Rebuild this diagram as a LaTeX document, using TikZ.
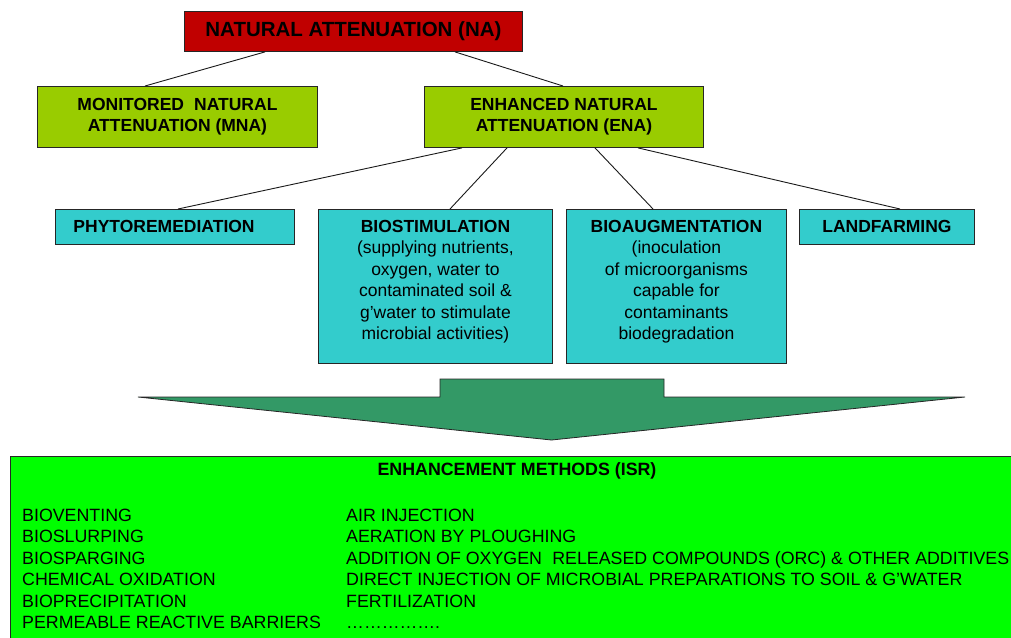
\documentclass[tikz,border=0pt]{standalone}
\usepackage{fontspec}
\setmainfont{Liberation Sans}
\definecolor{nared}{HTML}{C00000}
\definecolor{limegreen}{HTML}{99CC00}
\definecolor{tealfill}{HTML}{33CCCC}
\definecolor{arrowgreen}{HTML}{339966}
\definecolor{brightgreen}{HTML}{00FF00}
\newcommand\diagfont{\fontsize{17.5}{21.5}\selectfont}
\newcommand\listfont{\fontsize{17.8}{21.5}\selectfont}
\begin{document}
\begin{tikzpicture}[x=1pt,y=-1pt,
  box/.style={draw=black!85, line width=0.9pt, rectangle, inner sep=0pt,
    anchor=north west, align=center, text=black, font=\diagfont},
  nabox/.style={box, fill=nared, font=\fontsize{20.5}{24}\selectfont\bfseries},
  limebox/.style={box, fill=limegreen, font=\diagfont\bfseries},
  tealbox/.style={box, fill=tealfill},
  txt/.style={inner sep=0pt, text=black, font=\diagfont},
  listtxt/.style={txt, align=left, anchor=north west, font=\listfont},
  link/.style={draw=black!90, line width=0.9pt}]
\useasboundingbox (0,0) rectangle (1011,637);
\clip (0,0) rectangle (1011,637);

% top level
\node[nabox, minimum width=338, minimum height=40] (na) at (184,11) {NATURAL ATTENUATION (NA)};

% second level
\node[limebox, minimum width=280, minimum height=61] (mna) at (37,86)
  {MONITORED\hspace{0.3em} NATURAL\\ATTENUATION (MNA)};
\node[limebox, minimum width=279, minimum height=61] (ena) at (424,86)
  {ENHANCED NATURAL\\ATTENUATION (ENA)};

% enhancement options
\node[tealbox, minimum width=239, minimum height=35, text width=203,
  inner xsep=18pt, align=left, font=\diagfont\bfseries] (phyto) at (55,209) {PHYTOREMEDIATION};
\node[tealbox, minimum width=234, minimum height=154] (bios) at (318,209) {};
\node[txt, align=center, anchor=north] (bios-t) at ([yshift=-10.7pt]bios.north)
  {\textbf{BIOSTIMULATION}\\(supplying nutrients,\\oxygen, water to\\contaminated soil \&\\g’water to stimulate\\microbial activities)};
\node[tealbox, minimum width=220, minimum height=154] (bioa) at (566,209) {};
\node[txt, align=center, anchor=north] (bioa-t) at ([yshift=-10.7pt]bioa.north)
  {\textbf{BIOAUGMENTATION}\\(inoculation\\of microorganisms\\capable for\\contaminants\\biodegradation};
\node[tealbox, minimum width=175, minimum height=35, font=\diagfont\bfseries] (land) at (799,209) {LANDFARMING};

% connectors
\draw[link] ([xshift=81pt]na.south west) -- ([xshift=108pt]mna.north west);
\draw[link] ([xshift=271pt]na.south west) -- ([xshift=139pt]ena.north west);
\draw[link] ([xshift=38pt]ena.south west) -- ([xshift=123pt]phyto.north west);
\draw[link] ([xshift=83pt]ena.south west) -- ([xshift=132pt]bios.north west);
\draw[link] ([xshift=171pt]ena.south west) -- ([xshift=87pt]bioa.north west);
\draw[link] ([xshift=214pt]ena.south west) -- ([xshift=101pt]land.north west);

% broad downward arrow
\filldraw[fill=arrowgreen, draw=black!85, line width=0.8pt, line join=miter]
  (440,379) -- (664,379) -- (664,397) -- (965,397) -- (551.5,440)
  -- (138,397) -- (440,397) -- cycle;

% enhancement methods panel, running past the right and bottom edges
\node[box, fill=brightgreen, minimum width=1100, minimum height=220] (isr) at (10,456) {};
\node[txt, font=\listfont\bfseries] (isr-title) at (517,471) {ENHANCEMENT METHODS (ISR)};
\node[listtxt] (isr-left) at (22,508.6)
  {BIOVENTING\\BIOSLURPING\\BIOSPARGING\\CHEMICAL OXIDATION\\BIOPRECIPITATION\\PERMEABLE REACTIVE BARRIERS};
\node[listtxt] (isr-right) at (346,508.6)
  {AIR INJECTION\\AERATION BY PLOUGHING\\ADDITION OF OXYGEN\hspace{0.3em} RELEASED COMPOUNDS (ORC) \& OTHER ADDITIVES\\DIRECT INJECTION OF MICROBIAL PREPARATIONS TO SOIL \& G’WATER\\FERTILIZATION\\…………….};
\end{tikzpicture}
\end{document}
